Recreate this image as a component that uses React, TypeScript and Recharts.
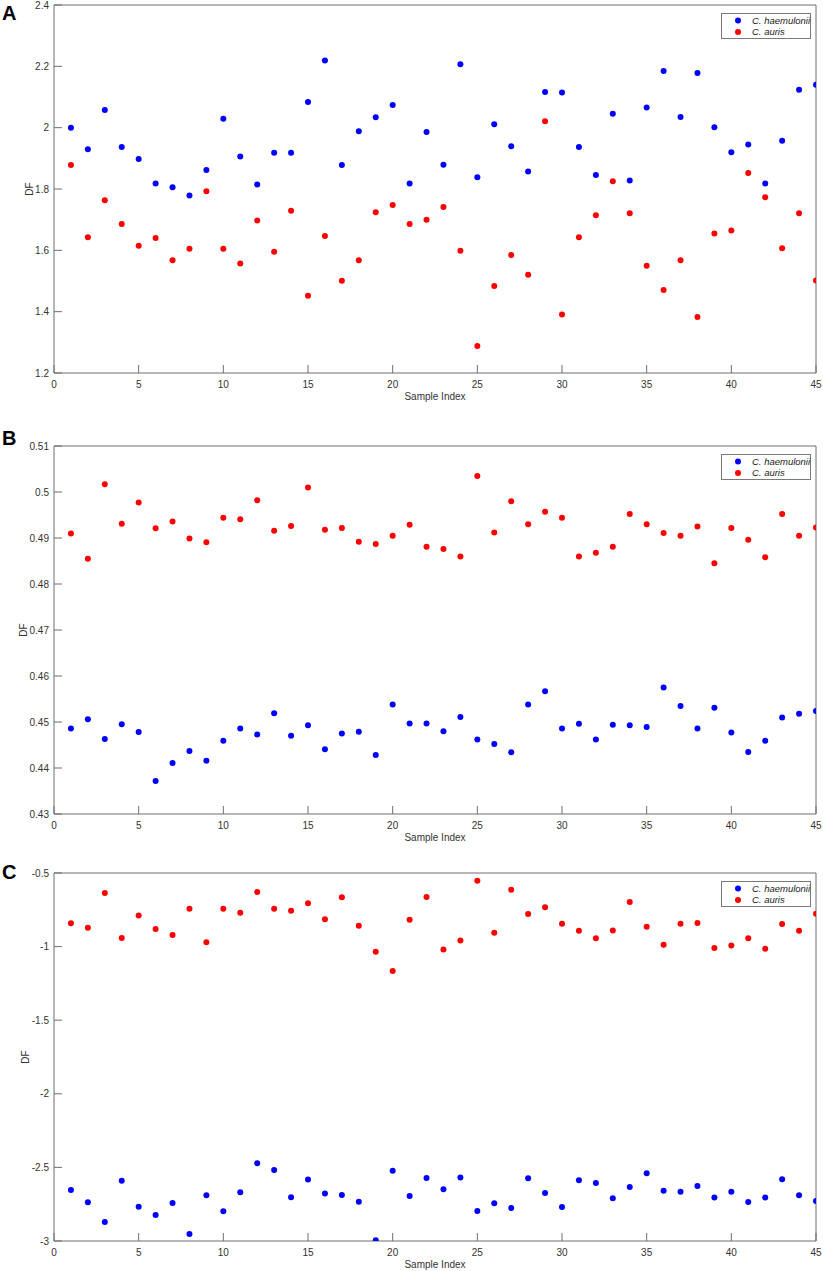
import React from 'react';
import { ScatterChart, Scatter, XAxis, YAxis, Legend } from 'recharts';

// sample index shared by all three panels
const sampleIndex = [
  1, 2, 3, 4, 5, 6, 7, 8, 9, 10, 11, 12, 13, 14, 15, 16, 17, 18, 19, 20, 21, 22, 23,
  24, 25, 26, 27, 28, 29, 30, 31, 32, 33, 34, 35, 36, 37, 38, 39, 40, 41, 42, 43, 44, 45,
];

const seriesNames = ['C. haemulonii', 'C. auris'];

// panel A
const aHaemulonii = [
  2.0, 1.93, 2.058, 1.937, 1.898, 1.818, 1.806, 1.779, 1.862, 2.029, 1.906, 1.815, 1.918, 1.918, 2.084,
  2.219, 1.878, 1.988, 2.034, 2.074, 1.818, 1.986, 1.879, 2.207, 1.838, 2.011, 1.939, 1.857, 2.116, 2.115,
  1.937, 1.846, 2.045, 1.828, 2.066, 2.185, 2.035, 2.178, 2.001, 1.92, 1.945, 1.818, 1.957, 2.124, 2.14,
];
const aAuris = [
  1.878, 1.643, 1.763, 1.686, 1.615, 1.64, 1.568, 1.605, 1.793, 1.605, 1.557, 1.697, 1.595, 1.729, 1.452,
  1.647, 1.501, 1.568, 1.724, 1.748, 1.686, 1.7, 1.741, 1.599, 1.288, 1.484, 1.585, 1.52, 2.021, 1.391,
  1.643, 1.714, 1.825, 1.721, 1.55, 1.471, 1.568, 1.383, 1.655, 1.665, 1.852, 1.773, 1.607, 1.721, 1.502,
];
const aTicks = [1.2, 1.4, 1.6, 1.8, 2, 2.2, 2.4];

// panel B
const bHaemulonii = [
  0.4486, 0.4506, 0.4463, 0.4495, 0.4478, 0.4372, 0.4411, 0.4437, 0.4416, 0.4459, 0.4486, 0.4473, 0.4519,
  0.447, 0.4493, 0.4441, 0.4475, 0.4479, 0.4428, 0.4538, 0.4497, 0.4497, 0.448, 0.4511, 0.4462, 0.4452,
  0.4434, 0.4538, 0.4567, 0.4486, 0.4496, 0.4462, 0.4494, 0.4493, 0.4489, 0.4575, 0.4535, 0.4486, 0.4531,
  0.4477, 0.4435, 0.4459, 0.451, 0.4518, 0.4524,
];
const bAuris = [
  0.491, 0.4855, 0.5017, 0.4931, 0.4977, 0.4921, 0.4936, 0.4899, 0.4891, 0.4944, 0.4941, 0.4982, 0.4916,
  0.4926, 0.501, 0.4918, 0.4922, 0.4892, 0.4887, 0.4905, 0.4929, 0.4881, 0.4876, 0.486, 0.5035, 0.4912,
  0.498, 0.493, 0.4957, 0.4944, 0.486, 0.4868, 0.4881, 0.4952, 0.493, 0.4911, 0.4905, 0.4925, 0.4845,
  0.4922, 0.4896, 0.4858, 0.4952, 0.4905, 0.4923,
];
const bTicks = [0.43, 0.44, 0.45, 0.46, 0.47, 0.48, 0.49, 0.5, 0.51];

// panel C
const cHaemulonii = [
  -2.653, -2.737, -2.871, -2.59, -2.767, -2.823, -2.742, -2.952, -2.689, -2.798, -2.669, -2.472, -2.517,
  -2.703, -2.583, -2.678, -2.687, -2.733, -2.995, -2.522, -2.694, -2.572, -2.649, -2.569, -2.796, -2.744,
  -2.776, -2.574, -2.674, -2.769, -2.587, -2.606, -2.71, -2.633, -2.54, -2.658, -2.665, -2.626, -2.705,
  -2.665, -2.735, -2.705, -2.581, -2.689, -2.728,
];
const cAuris = [
  -0.842, -0.872, -0.636, -0.942, -0.788, -0.881, -0.922, -0.743, -0.971, -0.743, -0.77, -0.629, -0.743,
  -0.756, -0.706, -0.815, -0.665, -0.858, -1.035, -1.166, -0.817, -0.663, -1.019, -0.958, -0.552, -0.906,
  -0.613, -0.779, -0.733, -0.845, -0.892, -0.944, -0.89, -0.697, -0.865, -0.987, -0.845, -0.84, -1.01,
  -0.992, -0.944, -1.015, -0.847, -0.892, -0.777,
];
const cTicks = [-3, -2.5, -2, -1.5, -1, -0.5];

const xTicks = [0, 5, 10, 15, 20, 25, 30, 35, 40, 45];

const AXIS = '#6f6f6f';
const TEXT = '#333333';
const FONT = '"Liberation Sans", Arial, Helvetica, sans-serif';

const toPoints = (values: number[]) => sampleIndex.map((x, i) => ({ x, y: values[i] }));

const Dot = (props: any) => <circle cx={props.cx} cy={props.cy} r={3} fill={props.fill} />;

const DfLabel = (props: any) => {
  const { viewBox, bx } = props;
  const cy = viewBox.y + viewBox.height / 2;
  return (
    <text x={bx} y={cy} transform={`rotate(-90 ${bx} ${cy})`} textAnchor="middle" fontSize={10} fill={TEXT}>
      DF
    </text>
  );
};

const SampleLabel = (props: any) => {
  const { viewBox } = props;
  return (
    <text x={viewBox.x + viewBox.width / 2} y={viewBox.y + 26.5} textAnchor="middle" fontSize={10} fill={TEXT}>
      Sample Index
    </text>
  );
};

const renderLegend = (props: any) => {
  const entries = [...(props.payload || [])].sort(
    (a: any, b: any) => seriesNames.indexOf(a.value) - seriesNames.indexOf(b.value),
  );
  return (
    <svg width={90} height={26} style={{ display: 'block' }}>
      <rect x={0.5} y={0.5} width={89} height={25} fill="#ffffff" stroke="#7a7a7a" />
      {entries.map((entry: any, i: number) => (
        <g key={i}>
          <circle cx={17} cy={7.5 + i * 11.5} r={3} fill={entry.color} />
          <text x={31} y={7.5 + i * 11.5} dy="0.35em" fontSize={9.5} fontStyle="italic" fill="#222">
            {entry.value}
          </text>
        </g>
      ))}
    </svg>
  );
};

type PanelProps = {
  top: number;
  haem: number[];
  auris: number[];
  ticks: number[];
  dfX: number;
};

const Panel = ({ top, haem, auris, ticks, dfX }: PanelProps) => {
  const domain = [ticks[0], ticks[ticks.length - 1]];
  return (
    <div style={{ position: 'absolute', left: 0, top }}>
      <ScatterChart width={823} height={403} margin={{ top: 4, right: 6, bottom: 0, left: 0 }}>
        <XAxis
          xAxisId="bottom"
          type="number"
          dataKey="x"
          domain={[0, 45]}
          ticks={xTicks}
          interval={0}
          allowDataOverflow
          height={30}
          tickSize={-8}
          tickMargin={15.5}
          stroke={AXIS}
          tick={{ fill: TEXT, fontSize: 10 }}
          label={<SampleLabel />}
        />
        <XAxis
          xAxisId="top"
          orientation="top"
          type="number"
          domain={[0, 45]}
          ticks={xTicks}
          interval={0}
          allowDataOverflow
          height={1}
          tickSize={-8}
          tick={false}
          stroke={AXIS}
        />
        <YAxis
          yAxisId="left"
          type="number"
          dataKey="y"
          domain={domain}
          ticks={ticks}
          interval={0}
          allowDataOverflow
          width={54}
          tickSize={-8}
          tickMargin={13}
          stroke={AXIS}
          tick={{ fill: TEXT, fontSize: 10 }}
          label={<DfLabel bx={dfX} />}
        />
        <YAxis
          yAxisId="right"
          orientation="right"
          type="number"
          domain={domain}
          ticks={ticks}
          interval={0}
          allowDataOverflow
          width={1}
          tickSize={-8}
          tick={false}
          stroke={AXIS}
        />
        <Legend
          layout="vertical"
          align="center"
          verticalAlign="middle"
          content={renderLegend}
          wrapperStyle={{ position: 'absolute', left: 721, top: 12.5, width: 90, height: 26 }}
        />
        <Scatter
          xAxisId="bottom"
          yAxisId="left"
          name={seriesNames[0]}
          data={toPoints(haem)}
          fill="#0000ff"
          shape={Dot}
          isAnimationActive={false}
        />
        <Scatter
          xAxisId="bottom"
          yAxisId="left"
          name={seriesNames[1]}
          data={toPoints(auris)}
          fill="#ff0000"
          shape={Dot}
          isAnimationActive={false}
        />
      </ScatterChart>
    </div>
  );
};

export default function App() {
  return (
    <div
      style={{
        position: 'absolute',
        left: 0,
        top: 0,
        width: 823,
        height: 1271,
        overflow: 'hidden',
        background: '#ffffff',
        fontFamily: FONT,
      }}
    >
      <Panel top={0} haem={aHaemulonii} auris={aAuris} ticks={aTicks} dfX={33} />
      <Panel top={441} haem={bHaemulonii} auris={bAuris} ticks={bTicks} dfX={27} />
      <Panel top={868} haem={cHaemulonii} auris={cAuris} ticks={cTicks} dfX={29} />
      <svg width={823} height={1271} style={{ position: 'absolute', left: 0, top: 0, pointerEvents: 'none' }}>
        <text x={2} y={20} fontSize={20} fontWeight="bold" fill="#000">A</text>
        <text x={2} y={445} fontSize={20} fontWeight="bold" fill="#000">B</text>
        <text x={2} y={879} fontSize={20} fontWeight="bold" fill="#000">C</text>
      </svg>
    </div>
  );
}
